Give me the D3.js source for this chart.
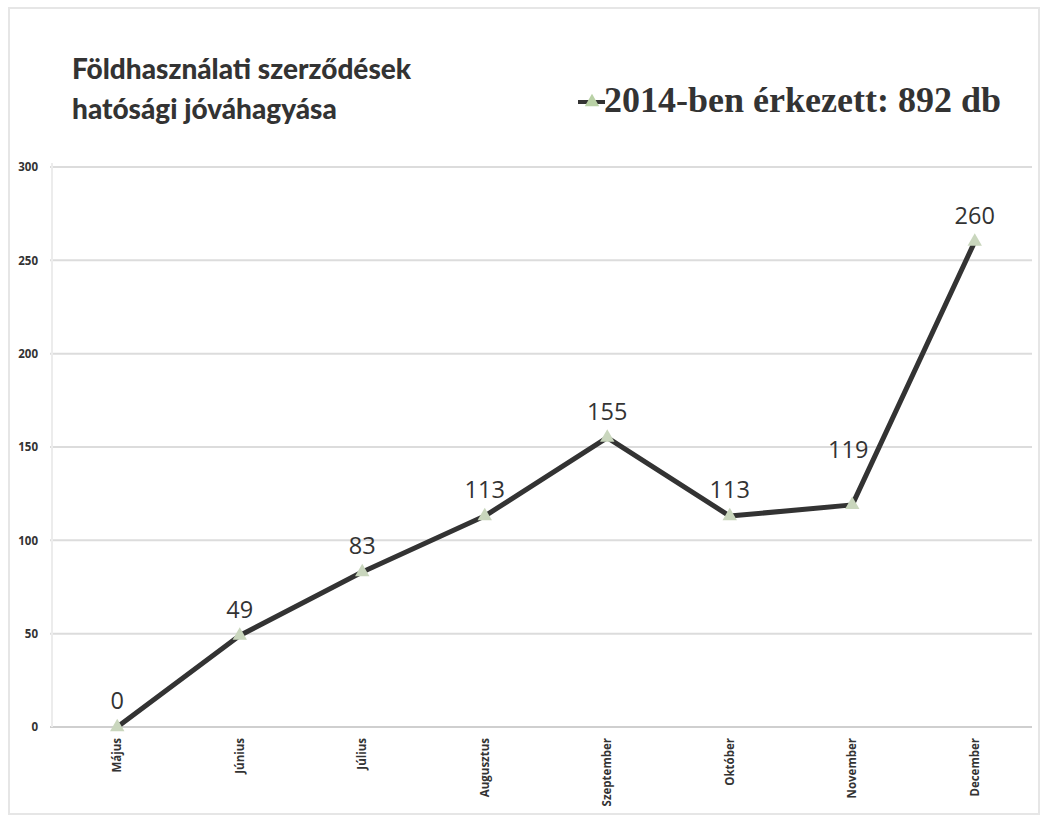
<!DOCTYPE html>
<html>
<head>
<meta charset="utf-8">
<script src="https://cdn.jsdelivr.net/npm/d3@7"></script>
<style>
body { margin: 0; background: #fff; }
svg { display: block; }
</style>
</head>
<body>
<svg id="chart" width="1043" height="818"></svg>
<script>
// adatok
const months = ["Május", "Június", "Július", "Augusztus", "Szeptember", "Október", "November", "December"]
const counts = [0, 49, 83, 113, 155, 113, 119, 260]
const yTicks = [0, 50, 100, 150, 200, 250, 300]
const titleLines = ["Földhasználati szerződések", "hatósági jóváhagyása"]
const legendText = "2014-ben érkezett: 892 db"

const svg = d3.select("#chart")
const m = {left: 56, right: 1036, top: 167, bottom: 727}

const x = d3.scalePoint().domain(months).range([m.left, m.right]).padding(0.5)
const y = d3.scaleLinear().domain([0, 300]).range([m.bottom, m.top])

// faint scan border
svg.append("rect").attr("x", 9).attr("y", 8).attr("width", 1030).attr("height", 806)
	.attr("fill", "none").attr("stroke", "#e6e6e6").attr("stroke-width", 2)

// gridlines
svg.append("g").selectAll("line").data(yTicks).join("line")
	.attr("x1", 50).attr("x2", 1032)
	.attr("y1", d => y(d)).attr("y2", d => y(d))
	.attr("stroke", d => d === 0 ? "#cfcfcf" : "#dcdcdc").attr("stroke-width", 2)

svg.append("line").attr("x1", 52).attr("x2", 52).attr("y1", m.top - 4).attr("y2", m.bottom)
	.attr("stroke", "#ececec").attr("stroke-width", 2)

// y axis labels
const yAxis = d3.axisLeft(y).tickValues(yTicks).tickSize(0).tickPadding(0)
svg.append("g").attr("transform", "translate(38,0)").call(yAxis)
	.call(g => g.select(".domain").remove())
	.selectAll("text")
	.attr("font-family", "'Open Sans', sans-serif").attr("font-weight", "bold")
	.attr("font-size", 11.5).attr("fill", "#333")

// x axis labels, rotated
svg.append("g").selectAll("text").data(months).join("text")
	.attr("transform", d => `translate(${x(d) + 4},738) rotate(-90)`)
	.attr("text-anchor", "end")
	.attr("font-family", "'Open Sans', sans-serif").attr("font-weight", "bold")
	.attr("font-size", 11.5).attr("fill", "#333")
	.text(d => d)

// line
const line = d3.line().x((d, i) => x(months[i])).y(d => y(d))
svg.append("path").datum(counts).attr("d", line)
	.attr("fill", "none").attr("stroke", "#333").attr("stroke-width", 5)
	.attr("stroke-linejoin", "round")

const tri = d3.symbol().type(d3.symbolTriangle).size(90)
svg.append("g").selectAll("path").data(counts).join("path")
	.attr("transform", (d, i) => `translate(${x(months[i])},${y(d)})`)
	.attr("d", tri).attr("fill", "#c9d6bd")

// data labels (November's sits higher in the original)
svg.append("g").selectAll("text").data(counts).join("text")
	.attr("x", (d, i) => x(months[i]) - (months[i] === "November" ? 4 : 0))
	.attr("y", (d, i) => y(d) - (months[i] === "November" ? 47 : 18))
	.attr("text-anchor", "middle")
	.attr("font-family", "'Open Sans', sans-serif").attr("font-size", 23.5).attr("fill", "#333")
	.text(d => d)

// title
svg.append("g").selectAll("text").data(titleLines).join("text")
	.attr("x", 72).attr("y", (d, i) => 79 + i * 40)
	.attr("font-family", "Lato, 'Open Sans', sans-serif").attr("font-weight", 900)
	.attr("font-size", 28).attr("fill", "#333")
	.text(d => d)

// legend
const lg = svg.append("g").attr("transform", "translate(578,102)")
lg.append("line").attr("x1", 0).attr("x2", 27).attr("stroke", "#333").attr("stroke-width", 4)
lg.append("path").attr("transform", "translate(14,0)").attr("d", tri).attr("fill", "#b9d1a6")
lg.append("text").attr("x", 26).attr("y", 10)
	.attr("font-family", "'Liberation Serif', 'Times New Roman', serif").attr("font-weight", "bold")
	.attr("font-size", 36).attr("fill", "#333")
	.text(legendText)
</script>
</body>
</html>
